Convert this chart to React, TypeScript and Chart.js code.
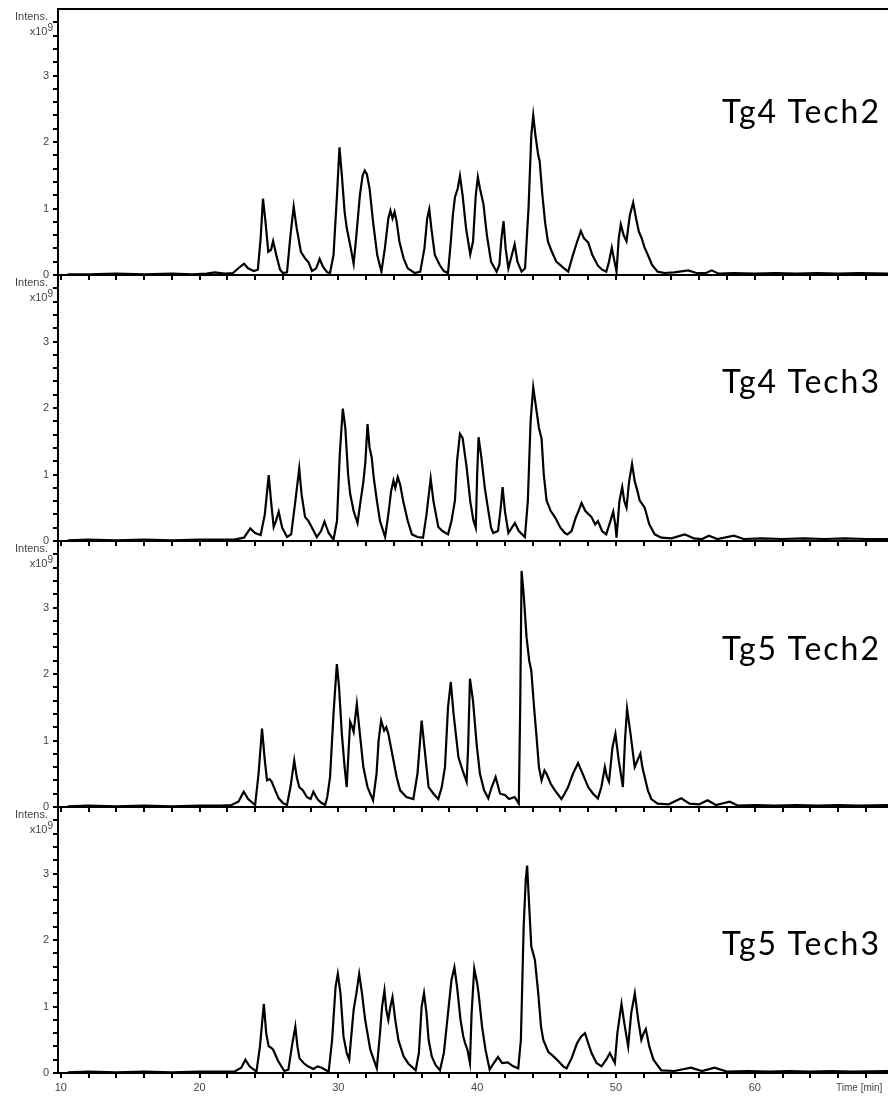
import React, { useEffect, useRef } from "react";
import { Chart, registerables } from "chart.js";

Chart.register(...registerables);

// ---- axis settings ----
const X_MIN = 9.8;
const X_MAX = 69.6;
const Y_MAX = 4;
const xTickLabels = [10, 20, 30, 40, 50, 60];
const yTickLabels = [0, 1, 2, 3];
const panelNames = ["Tg4 Tech2", "Tg4 Tech3", "Tg5 Tech2", "Tg5 Tech3"];
const xAxisTitle = "Time [min]";
const yAxisTitle = "Intens.";
const yAxisUnit = "x10";

// ---- series: [time (min), intensity (x10^9)] ----
const tg4Tech2: [number, number][] = [
  [10.5, 0.01], [12, 0.01], [14, 0.02], [16, 0.01], [18, 0.02], [19.5, 0.01], [20.5, 0.02], [21.1, 0.04],
  [21.8, 0.02], [22.4, 0.03], [22.9, 0.12], [23.2, 0.17], [23.5, 0.1], [23.9, 0.06], [24.2, 0.08], [24.4, 0.55],
  [24.57, 1.15], [24.75, 0.8], [24.95, 0.35], [25.15, 0.38], [25.3, 0.51], [25.55, 0.28], [25.8, 0.08], [26.0, 0.03],
  [26.3, 0.04], [26.55, 0.6], [26.78, 1.03], [27.0, 0.7], [27.3, 0.35], [27.6, 0.25], [27.85, 0.19], [28.1, 0.06],
  [28.4, 0.1], [28.65, 0.24], [28.9, 0.12], [29.2, 0.04], [29.4, 0.03], [29.65, 0.3], [29.9, 1.2], [30.08, 1.92],
  [30.25, 1.5], [30.45, 0.95], [30.6, 0.71], [30.85, 0.45], [31.1, 0.17], [31.3, 0.6], [31.55, 1.2], [31.75, 1.5],
  [31.9, 1.57], [32.05, 1.52], [32.25, 1.3], [32.5, 0.8], [32.8, 0.3], [33.1, 0.05], [33.35, 0.4], [33.6, 0.85],
  [33.75, 0.97], [33.9, 0.85], [34.05, 0.95], [34.2, 0.8], [34.4, 0.5], [34.7, 0.25], [35.0, 0.1], [35.5, 0.03],
  [35.9, 0.05], [36.2, 0.4], [36.4, 0.85], [36.55, 0.99], [36.7, 0.7], [36.95, 0.3], [37.3, 0.15], [37.6, 0.06],
  [37.9, 0.03], [38.1, 0.5], [38.25, 0.9], [38.4, 1.17], [38.6, 1.3], [38.76, 1.49], [38.95, 1.2], [39.2, 0.7],
  [39.5, 0.31], [39.7, 0.5], [39.9, 1.2], [40.05, 1.47], [40.2, 1.3], [40.45, 1.07], [40.7, 0.6], [41.0, 0.2],
  [41.4, 0.05], [41.6, 0.15], [41.75, 0.55], [41.9, 0.81], [42.05, 0.4], [42.25, 0.1], [42.5, 0.3], [42.7, 0.46],
  [42.9, 0.2], [43.2, 0.05], [43.45, 0.1], [43.7, 1.0], [43.9, 2.1], [44.04, 2.4], [44.2, 2.1], [44.4, 1.8],
  [44.5, 1.72], [44.7, 1.2], [44.9, 0.78], [45.1, 0.5], [45.36, 0.36], [45.7, 0.2], [46.2, 0.11], [46.56, 0.05],
  [46.9, 0.3], [47.2, 0.5], [47.47, 0.66], [47.7, 0.55], [48.0, 0.49], [48.3, 0.3], [48.7, 0.14], [49.0, 0.08],
  [49.3, 0.05], [49.5, 0.2], [49.7, 0.41], [49.85, 0.25], [50.04, 0.05], [50.2, 0.55], [50.35, 0.76], [50.55, 0.6],
  [50.76, 0.51], [51.0, 0.9], [51.24, 1.09], [51.45, 0.85], [51.65, 0.65], [51.84, 0.56], [52.05, 0.42], [52.3, 0.3],
  [52.6, 0.15], [53.0, 0.05], [53.5, 0.03], [54.2, 0.04], [55.2, 0.07], [55.8, 0.03], [56.5, 0.03], [56.9, 0.07],
  [57.4, 0.02], [58.5, 0.03], [60, 0.02], [61.5, 0.03], [63, 0.02], [64.5, 0.03], [66, 0.02], [67.5, 0.03], [69.6, 0.02],
];

const tg4Tech3: [number, number][] = [
  [10.5, 0.01], [12, 0.02], [14, 0.01], [16, 0.02], [18, 0.01], [20, 0.02], [21.5, 0.02], [22.5, 0.02],
  [23.2, 0.05], [23.65, 0.19], [24.0, 0.12], [24.4, 0.09], [24.7, 0.4], [24.98, 0.99], [25.15, 0.6], [25.34, 0.21],
  [25.5, 0.3], [25.7, 0.44], [25.95, 0.2], [26.3, 0.06], [26.6, 0.1], [26.9, 0.6], [27.18, 1.09], [27.35, 0.7],
  [27.6, 0.36], [27.85, 0.3], [28.1, 0.2], [28.45, 0.06], [28.75, 0.15], [29.0, 0.29], [29.3, 0.12], [29.65, 0.02],
  [29.9, 0.3], [30.1, 1.3], [30.32, 1.99], [30.5, 1.7], [30.7, 1.0], [30.85, 0.71], [31.1, 0.45], [31.38, 0.27],
  [31.6, 0.6], [31.8, 0.89], [31.95, 1.2], [32.1, 1.76], [32.25, 1.4], [32.4, 1.26], [32.55, 0.95], [32.77, 0.61],
  [33.0, 0.3], [33.37, 0.06], [33.6, 0.4], [33.8, 0.75], [33.97, 0.91], [34.1, 0.8], [34.28, 0.96], [34.45, 0.85],
  [34.7, 0.57], [35.0, 0.3], [35.3, 0.1], [35.7, 0.06], [36.1, 0.05], [36.35, 0.4], [36.65, 0.94], [36.85, 0.6],
  [37.2, 0.21], [37.5, 0.15], [37.9, 0.1], [38.15, 0.3], [38.4, 0.61], [38.55, 1.2], [38.76, 1.61], [38.95, 1.55],
  [39.24, 1.11], [39.5, 0.6], [39.73, 0.31], [39.9, 0.2], [40.0, 1.0], [40.1, 1.56], [40.3, 1.26], [40.55, 0.8],
  [40.8, 0.46], [41.0, 0.2], [41.16, 0.12], [41.5, 0.15], [41.7, 0.5], [41.83, 0.81], [42.0, 0.45], [42.25, 0.12],
  [42.5, 0.2], [42.72, 0.27], [43.0, 0.15], [43.44, 0.06], [43.65, 0.6], [43.85, 1.8], [44.04, 2.31], [44.25, 2.0],
  [44.45, 1.7], [44.64, 1.54], [44.8, 1.0], [45.0, 0.61], [45.3, 0.45], [45.6, 0.36], [46.0, 0.2], [46.32, 0.12],
  [46.5, 0.1], [46.8, 0.15], [47.1, 0.35], [47.3, 0.45], [47.52, 0.57], [47.8, 0.45], [48.24, 0.36], [48.5, 0.25],
  [48.7, 0.3], [49.0, 0.15], [49.3, 0.1], [49.6, 0.3], [49.8, 0.44], [49.95, 0.25], [50.04, 0.05], [50.25, 0.6],
  [50.45, 0.81], [50.6, 0.6], [50.76, 0.5], [50.95, 0.9], [51.16, 1.16], [51.35, 0.9], [51.55, 0.75], [51.71, 0.61],
  [52.07, 0.5], [52.4, 0.25], [52.79, 0.1], [53.27, 0.05], [54.0, 0.04], [54.95, 0.1], [55.6, 0.04], [56.2, 0.03],
  [56.7, 0.08], [57.3, 0.03], [58.5, 0.08], [59.2, 0.03], [60.5, 0.04], [62, 0.03], [63.5, 0.04], [65, 0.03],
  [66.5, 0.04], [68, 0.03], [69.6, 0.03],
];

const tg5Tech2: [number, number][] = [
  [10.5, 0.01], [12, 0.02], [14, 0.01], [16, 0.02], [18, 0.01], [20, 0.02], [21.5, 0.02], [22.3, 0.03],
  [22.8, 0.08], [23.18, 0.23], [23.5, 0.12], [24.0, 0.03], [24.25, 0.5], [24.5, 1.18], [24.7, 0.7], [24.86, 0.4],
  [25.05, 0.42], [25.2, 0.38], [25.45, 0.25], [25.7, 0.13], [26.0, 0.06], [26.3, 0.03], [26.55, 0.3], [26.82, 0.7],
  [27.0, 0.45], [27.18, 0.3], [27.45, 0.25], [27.73, 0.15], [28.0, 0.12], [28.2, 0.23], [28.4, 0.15], [28.57, 0.1],
  [28.8, 0.06], [29.05, 0.03], [29.2, 0.15], [29.4, 0.45], [29.65, 1.4], [29.89, 2.15], [30.05, 1.8], [30.25, 1.1],
  [30.45, 0.6], [30.6, 0.3], [30.75, 0.9], [30.85, 1.28], [31.0, 1.2], [31.1, 1.13], [31.33, 1.55], [31.55, 1.1],
  [31.8, 0.6], [32.1, 0.3], [32.5, 0.1], [32.75, 0.5], [32.9, 1.0], [33.08, 1.3], [33.3, 1.15], [33.45, 1.2],
  [33.6, 1.1], [33.97, 0.7], [34.2, 0.45], [34.45, 0.25], [34.9, 0.15], [35.4, 0.12], [35.7, 0.5], [36.0, 1.3],
  [36.2, 0.9], [36.5, 0.3], [36.85, 0.2], [37.2, 0.12], [37.45, 0.3], [37.68, 0.6], [37.9, 1.5], [38.1, 1.88],
  [38.3, 1.4], [38.65, 0.75], [38.95, 0.55], [39.24, 0.38], [39.35, 0.9], [39.48, 1.93], [39.7, 1.6], [39.96, 0.95],
  [40.2, 0.5], [40.5, 0.25], [40.8, 0.13], [41.05, 0.3], [41.33, 0.45], [41.65, 0.2], [42.0, 0.18], [42.3, 0.12],
  [42.7, 0.15], [43.0, 0.05], [43.1, 1.5], [43.2, 3.55], [43.35, 3.2], [43.56, 2.55], [43.75, 2.2], [43.9, 2.05],
  [44.1, 1.5], [44.28, 1.05], [44.45, 0.6], [44.64, 0.4], [44.85, 0.55], [45.0, 0.5], [45.3, 0.35], [45.6, 0.25],
  [46.07, 0.12], [46.3, 0.2], [46.55, 0.3], [46.9, 0.5], [47.27, 0.66], [47.6, 0.5], [48.0, 0.3], [48.35, 0.2],
  [48.7, 0.13], [48.95, 0.3], [49.2, 0.6], [49.35, 0.45], [49.5, 0.38], [49.75, 0.9], [49.96, 1.1], [50.2, 0.7],
  [50.5, 0.3], [50.65, 1.0], [50.8, 1.48], [51.05, 1.1], [51.35, 0.6], [51.55, 0.7], [51.76, 0.8], [51.9, 0.6],
  [52.07, 0.45], [52.3, 0.25], [52.55, 0.12], [53.0, 0.05], [53.8, 0.04], [54.7, 0.13], [55.3, 0.05], [56.0, 0.04],
  [56.6, 0.1], [57.2, 0.03], [58.2, 0.08], [58.8, 0.02], [60, 0.03], [61.5, 0.02], [63, 0.03], [64.5, 0.02],
  [66, 0.03], [67.5, 0.02], [69.6, 0.03],
];

const tg5Tech3: [number, number][] = [
  [10.5, 0.01], [12, 0.02], [14, 0.01], [16, 0.02], [18, 0.01], [20, 0.02], [21.5, 0.02], [22.5, 0.02],
  [23.0, 0.08], [23.3, 0.2], [23.6, 0.1], [24.1, 0.02], [24.35, 0.4], [24.63, 1.04], [24.8, 0.6], [24.98, 0.4],
  [25.15, 0.38], [25.3, 0.35], [25.66, 0.18], [26.1, 0.03], [26.4, 0.05], [26.65, 0.4], [26.9, 0.7], [27.05, 0.4],
  [27.2, 0.22], [27.5, 0.15], [27.8, 0.1], [28.2, 0.06], [28.5, 0.1], [28.8, 0.08], [29.3, 0.02], [29.55, 0.5],
  [29.8, 1.3], [29.96, 1.49], [30.15, 1.2], [30.37, 0.55], [30.6, 0.3], [30.78, 0.2], [30.95, 0.6], [31.1, 0.95],
  [31.3, 1.2], [31.5, 1.49], [31.7, 1.2], [31.93, 0.8], [32.3, 0.35], [32.77, 0.07], [33.0, 0.6], [33.15, 1.0],
  [33.32, 1.24], [33.45, 0.95], [33.6, 0.8], [33.75, 1.0], [33.9, 1.14], [34.1, 0.8], [34.33, 0.49], [34.7, 0.25],
  [35.05, 0.14], [35.57, 0.04], [35.8, 0.3], [36.0, 1.0], [36.17, 1.2], [36.35, 0.9], [36.5, 0.5], [36.73, 0.25],
  [37.0, 0.12], [37.32, 0.04], [37.6, 0.3], [37.9, 0.9], [38.15, 1.4], [38.36, 1.59], [38.55, 1.3], [38.8, 0.8],
  [39.0, 0.55], [39.13, 0.45], [39.3, 0.35], [39.48, 0.15], [39.6, 0.9], [39.79, 1.57], [40.0, 1.35], [40.1, 1.2],
  [40.35, 0.7], [40.6, 0.35], [40.9, 0.05], [41.2, 0.15], [41.5, 0.24], [41.8, 0.15], [42.2, 0.16], [42.6, 0.1],
  [42.96, 0.07], [43.15, 0.5], [43.35, 2.2], [43.5, 2.9], [43.6, 3.12], [43.75, 2.5], [43.9, 1.9], [44.16, 1.7],
  [44.4, 1.2], [44.6, 0.7], [44.76, 0.5], [45.12, 0.32], [45.5, 0.25], [45.84, 0.18], [46.2, 0.1], [46.44, 0.07],
  [46.8, 0.22], [47.2, 0.45], [47.5, 0.55], [47.77, 0.6], [48.0, 0.45], [48.24, 0.3], [48.6, 0.15], [48.96, 0.1],
  [49.3, 0.2], [49.56, 0.3], [49.92, 0.15], [50.1, 0.6], [50.4, 1.04], [50.6, 0.75], [50.88, 0.4], [51.1, 0.9],
  [51.36, 1.2], [51.6, 0.8], [51.83, 0.5], [52.0, 0.6], [52.15, 0.66], [52.4, 0.4], [52.7, 0.2], [53.27, 0.04],
  [54.2, 0.03], [55.4, 0.08], [56.2, 0.03], [57.1, 0.08], [58, 0.02], [59.5, 0.03], [61, 0.02], [62.5, 0.03],
  [64, 0.02], [65.5, 0.03], [67, 0.02], [69.6, 0.03],
];

const allSeries = [tg4Tech2, tg4Tech3, tg5Tech2, tg5Tech3];

// ---- layout (presentation only) ----
const PANEL_TOPS = [9, 275, 541, 807];
const PANEL_H = 266;
const PAD_TOP = 3;
const Y_AXIS_W = 58;
const WIDTH = 888;
const LABEL_TOPS = [93, 363, 630, 925];
const AXIS_FONT = "'Liberation Sans', Arial, sans-serif";

const topBorderPlugin = {
  id: "topBorder",
  afterDraw(chart: any, _args: any, opts: any) {
    if (!opts || !opts.enabled) return;
    const { ctx, chartArea } = chart;
    ctx.save();
    ctx.strokeStyle = "#000";
    ctx.lineWidth = 2;
    ctx.beginPath();
    ctx.moveTo(chartArea.left - 1, chartArea.top);
    ctx.lineTo(chartArea.right, chartArea.top);
    ctx.stroke();
    ctx.restore();
  },
};

function Panel({ index }: { index: number }) {
  const ref = useRef<HTMLCanvasElement>(null);
  const showX = index === allSeries.length - 1;
  const xh = showX ? 26 : 8;
  const canvasH = PAD_TOP + PANEL_H + xh;

  useEffect(() => {
    const series = allSeries[index];
    const chart = new Chart(ref.current!, {
      type: "line",
      data: {
        datasets: [
          {
            label: panelNames[index],
            data: series.map(([x, y]) => ({ x, y })),
            borderColor: "#000",
            borderWidth: 2.2,
            pointRadius: 0,
            tension: 0,
            fill: false,
          },
        ],
      },
      options: {
        animation: false,
        responsive: false,
        devicePixelRatio: 1,
        layout: { padding: { top: PAD_TOP, left: 0, right: 0, bottom: 0 } },
        plugins: {
          legend: { display: false },
          tooltip: { enabled: false },
          topBorder: { enabled: index === 0 },
        } as any,
        scales: {
          x: {
            type: "linear",
            min: X_MIN,
            max: X_MAX,
            afterBuildTicks: (s: any) => {
              const out: any[] = [];
              for (let v = 10; v <= X_MAX; v += 2) out.push({ value: v });
              s.ticks = out;
            },
            ticks: {
              autoSkip: false,
              maxRotation: 0,
              display: showX,
              padding: 3,
              color: "#444",
              font: { family: AXIS_FONT, size: 11 },
              callback: (v: any) => (xTickLabels.includes(Number(v)) ? String(v) : ""),
            },
            grid: { drawOnChartArea: false, drawTicks: true, tickLength: 5, color: "#000", lineWidth: 2 },
            border: { display: true, color: "#000", width: 2 },
            afterFit: (s: any) => {
              s.height = xh;
              s.paddingLeft = 0;
              s.paddingRight = 0;
            },
          },
          y: {
            type: "linear",
            min: 0,
            max: Y_MAX,
            afterBuildTicks: (s: any) => {
              const out: any[] = [];
              for (let i = 0; i <= 19; i++) out.push({ value: Math.round(i * 2) / 10 });
              s.ticks = out;
            },
            ticks: {
              autoSkip: false,
              padding: 4,
              color: "#444",
              font: { family: AXIS_FONT, size: 11 },
              callback: (v: any) => {
                const r = Math.round(Number(v));
                return Math.abs(v - r) < 1e-6 && yTickLabels.includes(r) ? String(r) : "";
              },
            },
            grid: { drawOnChartArea: false, drawTicks: true, tickLength: 5, color: "#000", lineWidth: 2 },
            border: { display: true, color: "#000", width: 2 },
            afterFit: (s: any) => {
              s.width = Y_AXIS_W;
              s.paddingTop = 0;
              s.paddingBottom = 0;
            },
          },
        },
      },
      plugins: [topBorderPlugin],
    });
    return () => chart.destroy();
  }, [index]);

  const top = PANEL_TOPS[index];
  return (
    <>
      <canvas
        ref={ref}
        width={WIDTH}
        height={canvasH}
        style={{ position: "absolute", left: 0, top: top - PAD_TOP, width: WIDTH, height: canvasH }}
      />
      <div
        style={{
          position: "absolute",
          left: 0,
          width: 48,
          top: top + 1,
          textAlign: "right",
          font: `11px ${AXIS_FONT}`,
          lineHeight: "12px",
          color: "#444",
        }}
      >
        {yAxisTitle}
      </div>
      <div
        style={{
          position: "absolute",
          left: 0,
          width: 53,
          top: top + 16,
          textAlign: "right",
          font: `11px ${AXIS_FONT}`,
          lineHeight: "12px",
          color: "#444",
        }}
      >
        {yAxisUnit}
        <sup style={{ fontSize: 10, verticalAlign: "4px", lineHeight: 0 }}>9</sup>
      </div>
      <div
        style={{
          position: "absolute",
          left: 722,
          top: LABEL_TOPS[index],
          font: "32px Lato, 'Open Sans', sans-serif",
          letterSpacing: "2px",
          lineHeight: "36px",
          color: "#000",
          whiteSpace: "nowrap",
        }}
      >
        {panelNames[index]}
      </div>
    </>
  );
}

export default function App() {
  return (
    <div style={{ position: "absolute", left: 0, top: 0, width: WIDTH, height: 1098, background: "#fff" }}>
      {allSeries.map((_, i) => (
        <Panel key={i} index={i} />
      ))}
      <div
        style={{
          position: "absolute",
          left: 836,
          top: 1082,
          font: `10px ${AXIS_FONT}`,
          lineHeight: "12px",
          color: "#444",
          whiteSpace: "nowrap",
        }}
      >
        {xAxisTitle}
      </div>
    </div>
  );
}
